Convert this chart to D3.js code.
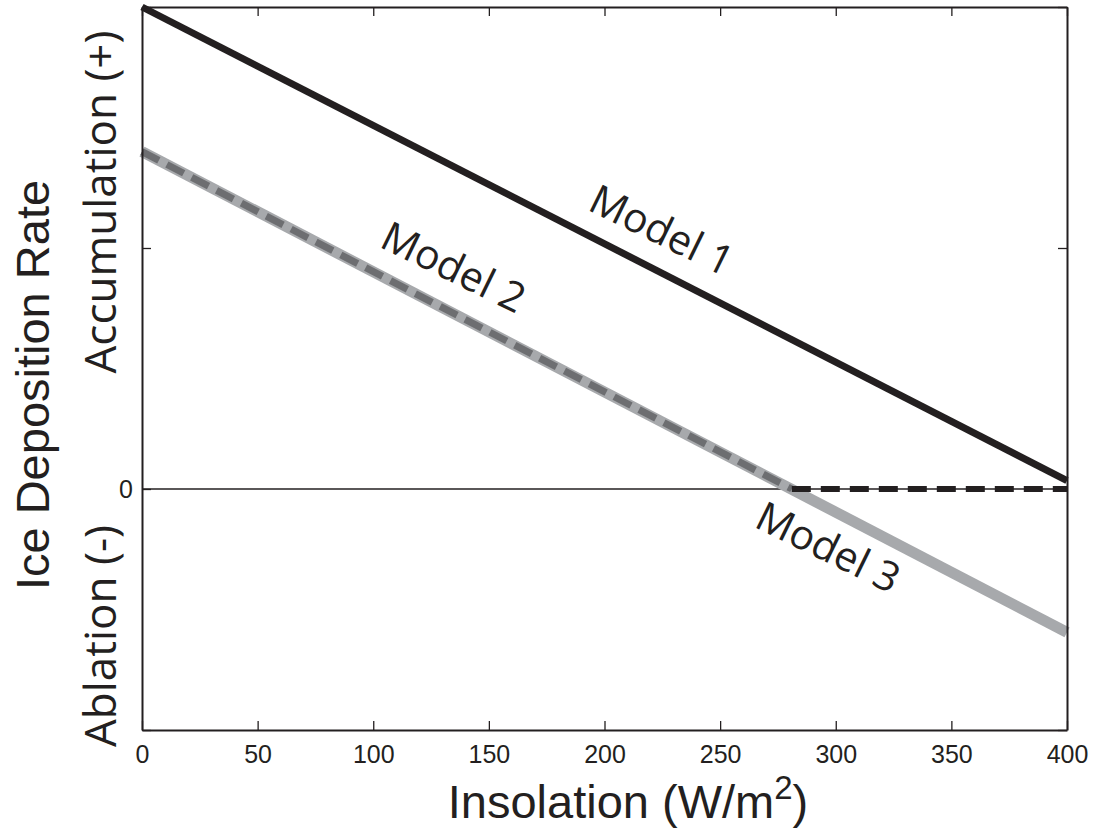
<!DOCTYPE html>
<html>
<head>
<meta charset="utf-8">
<script src="https://cdn.jsdelivr.net/npm/d3@7"></script>
<style>
  html, body { margin: 0; padding: 0; background: #fff; }
  svg { display: block; }
</style>
</head>
<body>
<svg id="chart" width="1094" height="829"></svg>
<script>
// ---- data ----
const xTicks = [0, 50, 100, 150, 200, 250, 300, 350, 400];
const yTicks = [-1, 0, 1, 2];
const yTickLabels = ["", "0", "", ""];
const model1 = [[0, 2.0], [400, 0.035]];
const model3 = [[0, 1.40], [400, -0.595]];
const model2Sloped = [[0, 1.40], [281, 0]];
const model2Flat = [[281, 0], [400, 0]];
const zeroLine = [[0, 0], [400, 0]];
const labels = [
  { text: "Model 1", x: 222, y: 1.02 },
  { text: "Model 2", x: 132, y: 0.867 },
  { text: "Model 3", x: 294, y: -0.295 }
];

// ---- layout ----
const svg = d3.select("#chart");
const L = 142, R = 1067, T = 7, B = 730;
const x = d3.scaleLinear().domain([0, 400]).range([L, R]);
const y = d3.scaleLinear().domain([-1, 2]).range([B, T]);
const ink = "#231f20";
const line = d3.line().x(d => x(d[0])).y(d => y(d[1]));

// zero line
svg.append("path").attr("d", line(zeroLine)).attr("fill", "none")
  .attr("stroke", ink).attr("stroke-width", 1.5);

// Model 3 (light gray thick)
svg.append("path").attr("d", line(model3)).attr("fill", "none")
  .attr("stroke", "#a7a9ac").attr("stroke-width", 11);
// Model 2 dashed
svg.append("path").attr("d", line(model2Sloped)).attr("fill", "none")
  .attr("stroke", "#6d6e71").attr("stroke-width", 7)
  .attr("stroke-dasharray", "19,9");
svg.append("path").attr("d", line(model2Flat)).attr("fill", "none")
  .attr("stroke", ink).attr("stroke-width", 6)
  .attr("stroke-dasharray", "19,10");
// Model 1
svg.append("path").attr("d", line(model1)).attr("fill", "none")
  .attr("stroke", ink).attr("stroke-width", 7);

// axes
const tickLen = 9;
const axB = svg.append("g").attr("transform", `translate(0,${B})`)
  .call(d3.axisBottom(x).tickValues(xTicks).tickSizeInner(-tickLen).tickSizeOuter(0).tickPadding(15));
const axT = svg.append("g").attr("transform", `translate(0,${T})`)
  .call(d3.axisTop(x).tickValues(xTicks).tickSizeInner(-tickLen).tickSizeOuter(0).tickFormat(""));
const axL = svg.append("g").attr("transform", `translate(${L},0)`)
  .call(d3.axisLeft(y).tickValues(yTicks).tickSizeInner(-tickLen).tickSizeOuter(0).tickPadding(9)
    .tickFormat((d, i) => yTickLabels[i]));
const axR = svg.append("g").attr("transform", `translate(${R},0)`)
  .call(d3.axisRight(y).tickValues(yTicks).tickSizeInner(-tickLen).tickSizeOuter(0).tickFormat(""));
[axB, axT, axL, axR].forEach(g => {
  g.attr("font-size", null).attr("font-family", null);
  g.select(".domain").attr("stroke", ink).attr("stroke-width", 2);
  g.selectAll(".tick line").attr("stroke", ink).attr("stroke-width", 1.3);
  g.selectAll("text").attr("fill", ink)
    .style("font-family", "'Liberation Sans', Arial, Helvetica, sans-serif")
    .style("font-size", "25px");
});

// model labels
const ang = Math.atan2(y(model1[1][1]) - y(model1[0][1]), x(model1[1][0]) - x(model1[0][0])) * 180 / Math.PI - 1;
svg.selectAll(".mlabel").data(labels).enter().append("text")
  .attr("class", "mlabel")
  .attr("transform", d => `translate(${x(d.x)},${y(d.y)}) rotate(${ang})`)
  .attr("text-anchor", "middle")
  .style("font-family", "'Open Sans', sans-serif")
  .style("font-size", "41px")
  .attr("fill", ink)
  .text(d => d.text);

// axis titles
const xt = svg.append("text")
  .attr("x", 628).attr("y", 818)
  .attr("text-anchor", "middle")
  .style("font-family", "'Liberation Sans', Arial, Helvetica, sans-serif")
  .style("font-size", "47px").attr("fill", ink);
xt.append("tspan").text("Insolation (W/m");
xt.append("tspan").attr("dy", -19).style("font-size", "33px").text("2");
xt.append("tspan").attr("dy", 19).text(")");

svg.append("text")
  .attr("transform", `translate(49,385) rotate(-90)`)
  .attr("text-anchor", "middle")
  .style("font-family", "'Liberation Sans', Arial, Helvetica, sans-serif")
  .style("font-size", "47px").attr("fill", ink)
  .text("Ice Deposition Rate");
svg.append("text")
  .attr("transform", `translate(116,202) rotate(-90)`)
  .attr("text-anchor", "middle")
  .style("font-family", "'Open Sans', sans-serif")
  .style("font-size", "44px").attr("fill", ink)
  .text("Accumulation (+)");
svg.append("text")
  .attr("transform", `translate(116,636) rotate(-90)`)
  .attr("text-anchor", "middle")
  .style("font-family", "'Open Sans', sans-serif")
  .style("font-size", "44px").attr("fill", ink)
  .text("Ablation (-)");
</script>
</body>
</html>
